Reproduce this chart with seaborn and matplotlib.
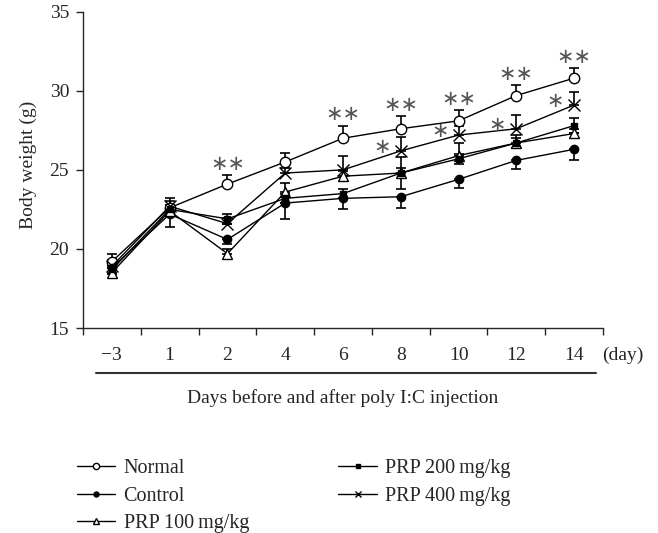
import numpy as np
import pandas as pd
import seaborn as sns
import matplotlib.pyplot as plt

# data
days = ['\u22123', '1', '2', '4', '6', '8', '10', '12', '14']
normal = [19.2, 22.6, 24.1, 25.5, 27.0, 27.6, 28.1, 29.7, 30.8]
control = [18.8, 22.2, 20.6, 22.9, 23.2, 23.3, 24.4, 25.6, 26.3]
prp100 = [18.5, 22.4, 19.7, 23.6, 24.6, 24.8, 25.9, 26.7, 27.3]
prp200 = [18.7, 22.5, 21.9, 23.2, 23.5, 24.8, 25.7, 26.7, 27.8]
prp400 = [18.9, 22.7, 21.6, 24.8, 25.0, 26.2, 27.2, 27.6, 29.1]

# error bars (one-sided as drawn in the figure)
normal_err = [0.5, 0.4, 0.55, 0.55, 0.8, 0.8, 0.7, 0.65, 0.65]
control_err = [0.4, 0.8, 0.3, 1.0, 0.7, 0.7, 0.55, 0.55, 0.7]
prp100_err = [0.3, 0.4, 0.3, 0.55, 0.3, 0.3, 0.8, 0.5, 0.3]
prp200_err = [0.3, 0.3, 0.3, 0.3, 0.3, 1.0, 0.3, 0.3, 0.45]
prp400_err = [0.4, 0.5, 0.35, 0.3, 0.85, 0.85, 0.6, 0.85, 0.85]

double_star = [2, 4, 5, 6, 7, 8]   # Normal vs Control
single_star = [5, 6, 7, 8]         # PRP 400 vs Control

sns.set_style("ticks")
plt.rcParams['font.family'] = ['Liberation Serif', 'DejaVu Sans']
plt.rcParams['font.size'] = 14

fig = plt.figure(figsize=(6.58, 5.33), dpi=100)
ax = fig.add_axes([0.1261, 0.3846, 0.7903, 0.5934])

pos = np.arange(len(days))
zero = np.zeros(len(days))

series = [
    ('Normal', normal, [zero, normal_err], dict(marker='o', mfc='white', ms=7.5)),
    ('Control', control, [control_err, zero], dict(marker='o', mfc='black', ms=6)),
    ('PRP 100\u2009mg/kg', prp100, [zero, prp100_err], dict(marker='^', mfc='white', ms=7)),
    ('PRP 200\u2009mg/kg', prp200, [prp200_err, prp200_err], dict(marker='s', mfc='black', ms=4)),
    ('PRP 400\u2009mg/kg', prp400, [zero, prp400_err], dict(marker='x', ms=8)),
]

for name, vals, err, mk in series:
    ax.errorbar(pos, vals, yerr=np.array(err), fmt='none', ecolor='black',
                elinewidth=1.2, capsize=3.6, capthick=1.2, zorder=2)
    sns.lineplot(x=pos, y=vals, ax=ax, color='black', lw=1.0, mec='black',
                 mew=1.0, label=name, zorder=3, **mk)

# significance marks
for i in double_star:
    ax.annotate('\u2217\u2217', (pos[i], normal[i] + normal_err[i]),
                xytext=(0, 8), textcoords='offset points', ha='center', va='center',
                fontsize=15, color='#555555', family='DejaVu Sans')
for i in single_star:
    ax.annotate('\u2217', (pos[i], prp400[i]),
                xytext=(-13.5, 3), textcoords='offset points', ha='center', va='center',
                fontsize=15, color='#555555', family='DejaVu Sans')

ax.set_xlim(-0.5, len(days) - 0.5)
ax.set_ylim(15, 35)
ax.set_yticks([15, 20, 25, 30, 35])
ax.set_xticks(pos)
ax.set_xticklabels(days)
ax.set_xticks(np.arange(len(days) + 1) - 0.5, minor=True)
ax.tick_params(axis='x', which='major', length=0, pad=14, labelsize=14)
ax.tick_params(axis='x', which='minor', length=5, width=1.0, direction='out')
ax.tick_params(axis='y', length=5, width=1.0, pad=5, labelsize=14)
for s in ['left', 'bottom']:
    ax.spines[s].set_linewidth(1.0)
sns.despine(ax=ax)

ax.annotate('(day)', (len(days) - 0.5, 0), xycoords=('data', 'axes fraction'),
            xytext=(20, -27), textcoords='offset pixels', ha='center', va='center',
            fontsize=14)
ax.plot([0.0244, 0.9865], [-0.1413, -0.1413], transform=ax.transAxes,
        color='#333333', lw=1.5, clip_on=False)

ax.set_xlabel('Days before and after poly I:C injection', fontsize=14)
ax.xaxis.set_label_coords(0.5, -0.193)
ax.set_ylabel('Body weight (g)', fontsize=14)
ax.yaxis.set_label_coords(-0.088, 0.515)

handles, labels = ax.get_legend_handles_labels()
ax.get_legend().remove()
fig.legend(handles, labels, ncol=2, loc='upper left', bbox_to_anchor=(0.102, 0.157),
           frameon=False, fontsize=14.5, borderpad=0, handlelength=1.9,
           handletextpad=0.4, columnspacing=4.45, labelspacing=0.4, markerscale=0.6)

fig.savefig('out.png', dpi=100)
